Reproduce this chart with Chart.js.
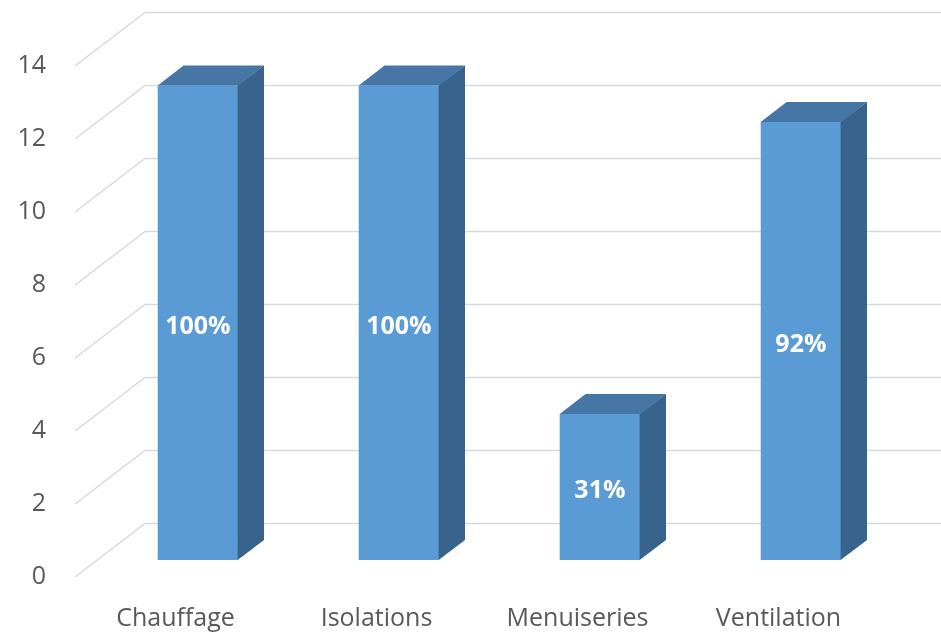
<!DOCTYPE html>
<html>
<head>
<meta charset="utf-8">
<script src="https://cdn.jsdelivr.net/npm/chart.js@4.4.0/dist/chart.umd.min.js"></script>
<style>
  html, body { margin: 0; padding: 0; background: #fff; }
  #wrap { width: 941px; height: 634px; }
</style>
</head>
<body>
<div id="wrap"><canvas id="chart"></canvas></div>
<script>
// --- Data ---
const categories = ["Chauffage", "Isolations", "Menuiseries", "Ventilation"];
const counts = [13, 13, 4, 12];
const yTicks = [0, 2, 4, 6, 8, 10, 12, 14];

// --- 3D look ---
// full depth of the box, front plane -> back wall
const DEPTH = { x: 70, y: -53.5 };
// bars sit between these fractions of the depth
const BAR_FRONT = 0.32;
const BAR_BACK = 0.69;

const FRONT_COLOR = "#5b9bd5";
const TOP_COLOR = "#4676a6";
const SIDE_COLOR = "#37638c";
const GRID_COLOR = "#d9d9d9";
const TEXT_COLOR = "#595959";
const FONT = "'Open Sans', 'Noto Sans', sans-serif";

const maxCount = Math.max(...counts);

const box3d = {
  id: "box3d",

  // side wall diagonals and back wall gridlines
  beforeDatasetsDraw(chart) {
    const { ctx, scales: { x, y } } = chart;
    ctx.save();
    ctx.strokeStyle = GRID_COLOR;
    ctx.lineWidth = 1.5;
    yTicks.forEach((t) => {
      const py = y.getPixelForValue(t);
      ctx.beginPath();
      ctx.moveTo(x.left, py);
      ctx.lineTo(x.left + DEPTH.x, py + DEPTH.y);
      ctx.lineTo(chart.width, py + DEPTH.y);
      ctx.stroke();
    });
    ctx.restore();
  },

  // push the front faces back into the box
  beforeDatasetDraw(chart) {
    chart.ctx.save();
    chart.ctx.translate(DEPTH.x * BAR_FRONT, DEPTH.y * BAR_FRONT);
  },

  // top and side faces of each column
  afterDatasetDraw(chart, args) {
    const ctx = chart.ctx;
    const dx = DEPTH.x * (BAR_BACK - BAR_FRONT);
    const dy = DEPTH.y * (BAR_BACK - BAR_FRONT);
    args.meta.data.forEach((bar) => {
      const { x, y, base, width } = bar.getProps(["x", "y", "base", "width"], true);
      const l = x - width / 2;
      const r = x + width / 2;

      ctx.fillStyle = TOP_COLOR;
      ctx.beginPath();
      ctx.moveTo(l, y);
      ctx.lineTo(l + dx, y + dy);
      ctx.lineTo(r + dx, y + dy);
      ctx.lineTo(r, y);
      ctx.closePath();
      ctx.fill();

      ctx.fillStyle = SIDE_COLOR;
      ctx.beginPath();
      ctx.moveTo(r - 0.5, y);
      ctx.lineTo(r + dx, y + dy);
      ctx.lineTo(r + dx, base + dy);
      ctx.lineTo(r - 0.5, base);
      ctx.closePath();
      ctx.fill();
    });
    ctx.restore();
  },

  // percentage of the largest column, in the middle of each front face
  afterDatasetsDraw(chart) {
    const ctx = chart.ctx;
    const meta = chart.getDatasetMeta(0);
    ctx.save();
    ctx.fillStyle = "#ffffff";
    ctx.font = "bold 25px " + FONT;
    ctx.textAlign = "center";
    ctx.textBaseline = "middle";
    meta.data.forEach((bar, i) => {
      const { x, y, base } = bar.getProps(["x", "y", "base"], true);
      const pct = Math.round((counts[i] / maxCount) * 100) + "%";
      ctx.fillText(
        pct,
        x + DEPTH.x * BAR_FRONT,
        (y + base) / 2 + DEPTH.y * BAR_FRONT + 4
      );
    });
    ctx.restore();
  },
};

const ctx = document.getElementById("chart").getContext("2d");
new Chart(ctx, {
  type: "bar",
  data: {
    labels: categories,
    datasets: [
      {
        data: counts,
        backgroundColor: FRONT_COLOR,
        borderWidth: 0,
        categoryPercentage: 1,
        barPercentage: 0.4,
        clip: false,
      },
    ],
  },
  options: {
    responsive: true,
    maintainAspectRatio: false,
    animation: false,
    events: [],
    layout: { padding: { top: 66, right: 62, left: 0, bottom: 0 } },
    plugins: {
      legend: { display: false },
      tooltip: { enabled: false },
    },
    scales: {
      x: {
        grid: { display: false, drawTicks: false },
        border: { display: false },
        ticks: {
          color: TEXT_COLOR,
          font: { family: FONT, size: 25 },
          padding: 27,
          maxRotation: 0,
        },
        afterFit: (s) => { s.height = 57; },
      },
      y: {
        min: 0,
        max: 14,
        grid: { display: false, drawTicks: false },
        border: { display: false },
        ticks: {
          stepSize: 2,
          color: TEXT_COLOR,
          font: { family: FONT, size: 25 },
          padding: 29,
        },
        afterFit: (s) => { s.width = 75; },
      },
    },
  },
  plugins: [box3d],
});
</script>
</body>
</html>
